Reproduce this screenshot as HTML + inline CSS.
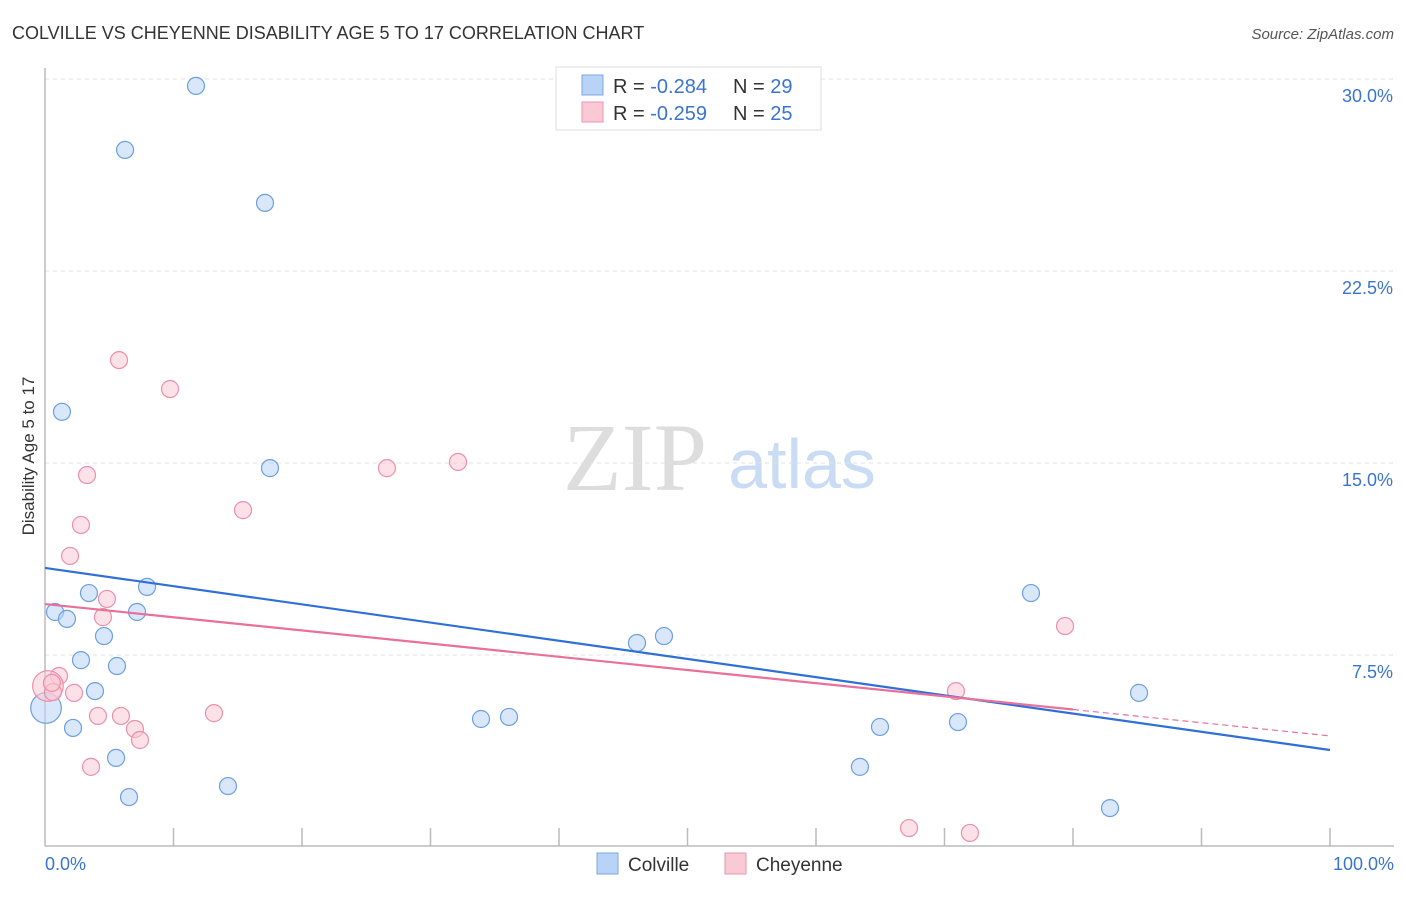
<!DOCTYPE html>
<html><head><meta charset="utf-8"><style>
body{margin:0;background:#fff;font-family:"Liberation Sans",sans-serif;}
</style></head><body>
<svg id="chart" width="1406" height="892" viewBox="0 0 1406 892" font-family="Liberation Sans, sans-serif">
<text x="12" y="39" font-size="18" fill="#333">COLVILLE VS CHEYENNE DISABILITY AGE 5 TO 17 CORRELATION CHART</text>
<text x="1394" y="39" font-size="15" fill="#555" font-style="italic" text-anchor="end">Source: ZipAtlas.com</text>
<g>
<text x="635" y="490" font-size="96" fill="#ddd" style="font-family:'Liberation Serif',serif" text-anchor="middle">ZIP</text>
<text x="802" y="488" font-size="70" fill="#c9dcf3" text-anchor="middle">atlas</text>
</g>
<g id="grid"></g>
<g id="axes"></g>
<g id="marks"></g>
<text transform="translate(34,456) rotate(-90)" font-size="17" fill="#333" text-anchor="middle">Disability Age 5 to 17</text>
<text x="45" y="870" font-size="18" fill="#3a74d0">0.0%</text>
<text x="1394" y="870" font-size="18" fill="#3a74d0" text-anchor="end">100.0%</text>
<g>
<rect x="556" y="67" width="265" height="63" fill="#fff" stroke="#ddd"/>
<rect x="582" y="75" width="21" height="20" fill="#b8d3f5" stroke="#7aa7e6"/>
<text x="613" y="93" font-size="20" fill="#333">R = <tspan fill="#3a74d0">-0.284</tspan><tspan dx="26">N = </tspan><tspan fill="#3a74d0">29</tspan></text>
<rect x="582" y="102" width="21" height="20" fill="#f9c9d6" stroke="#ee93ae"/>
<text x="613" y="120" font-size="20" fill="#333">R = <tspan fill="#3a74d0">-0.259</tspan><tspan dx="26">N = </tspan><tspan fill="#3a74d0">25</tspan></text>
</g>
<g>
<rect x="597" y="853" width="21" height="21" fill="#b8d3f5" stroke="#7aa7e6"/>
<text x="628" y="871" font-size="19" fill="#333">Colville</text>
<rect x="725" y="853" width="21" height="21" fill="#f9c9d6" stroke="#ee93ae"/>
<text x="756" y="871" font-size="19" fill="#333">Cheyenne</text>
</g>
</svg>
<script>
const yTicks=[7.5,15,22.5,30];
const yTickLabels=["7.5%","15.0%","22.5%","30.0%"];
const colvilleX=[11.75,6.23,17.12,1.32,17.51,7.94,3.42,0.78,7.16,1.71,4.59,2.80,5.60,3.89,0.08,2.18,5.53,6.54,14.24,33.93,36.11,46.07,48.17,63.42,64.98,71.05,76.73,85.14,82.88];
const colvilleY=[29.73,27.23,25.16,17.0,14.8,10.16,9.92,9.18,9.18,8.91,8.24,7.30,7.07,6.09,5.43,4.65,3.48,1.95,2.38,5.0,5.08,7.97,8.24,3.13,4.69,4.88,9.92,6.02,1.52];
const colvilleSize=[1,1,1,1,1,1,1,1,1,1,1,1,1,1,1.8,1,1,1,1,1,1,1,1,1,1,1,1,1,1];
const cheyenneX=[5.76,9.73,3.27,2.80,15.41,1.95,26.61,32.14,4.82,4.51,1.09,0.23,0.62,2.26,4.12,5.91,7.0,7.39,13.15,3.58,70.89,79.38,67.24,71.98,0.54];
const cheyenneY=[19.02,17.89,14.53,12.58,13.16,11.37,14.8,15.04,9.69,8.98,6.68,6.29,6.05,6.02,5.12,5.12,4.61,4.18,5.23,3.13,6.09,8.63,0.74,0.55,6.41];
const cheyenneSize=[1,1,1,1,1,1,1,1,1,1,1,1.8,1,1,1,1,1,1,1,1,1,1,1,1,1];
const colvilleTrend=[10.9,3.79];
const cheyenneTrend=[9.49,4.34];
const cheyenneSolidEnd=80;

const X=v=>45+v*12.85, Y=v=>847-v*25.6;
const NS="http://www.w3.org/2000/svg";
function mk(t,a,p){const e=document.createElementNS(NS,t);for(const k in a)e.setAttribute(k,a[k]);p.appendChild(e);return e;}
const grid=document.getElementById('grid'),axes=document.getElementById('axes'),marks=document.getElementById('marks');
yTicks.forEach((t,i)=>{
  const l=mk('line',{x1:45,x2:1394,y1:Y(t),y2:Y(t),stroke:'#e2e2e2','stroke-dasharray':'4,4'},grid);
  
  
  const tx=mk('text',{x:1393,y:Y(t)+23,'font-size':18,fill:'#3a74d0','text-anchor':'end'},grid);
  tx.textContent=yTickLabels[i];
  
  
});
const ya=mk('line',{x1:45,x2:45,y1:68,y2:846,stroke:'#bbb','stroke-width':1.5},axes);


const xa=mk('line',{x1:45,x2:1394,y1:846,y2:846,stroke:'#bbb','stroke-width':1.5},axes);


for(let i=1;i<=10;i++){const t=mk('line',{x1:X(i*10),x2:X(i*10),y1:828,y2:846,stroke:'#bbb','stroke-width':1.5},axes);
  
  }
function dots(xs,ys,ss,fill,stroke,name){xs.forEach((x,i)=>{const c=mk('circle',{cx:X(x),cy:Y(ys[i]),r:8.5*ss[i],fill:fill,'fill-opacity':0.55,stroke:stroke,'stroke-width':1.2},marks);
  
  });}
dots(colvilleX,colvilleY,colvilleSize,'#b8d3f5','#6d9fe0','colville-point');
dots(cheyenneX,cheyenneY,cheyenneSize,'#f9c9d6','#ec8fab','cheyenne-point');
const bl=mk('line',{x1:X(0),y1:Y(colvilleTrend[0]),x2:X(100),y2:Y(colvilleTrend[1]),stroke:'#2f6fd6','stroke-width':2.2},marks);


const pm=cheyenneTrend[0]+(cheyenneTrend[1]-cheyenneTrend[0])*cheyenneSolidEnd/100;
const pl=mk('line',{x1:X(0),y1:Y(cheyenneTrend[0]),x2:X(cheyenneSolidEnd),y2:Y(pm),stroke:'#e8709a','stroke-width':2.2},marks);


const pd=mk('line',{x1:X(cheyenneSolidEnd),y1:Y(pm),x2:X(100),y2:Y(cheyenneTrend[1]),stroke:'#e8709a','stroke-width':1.2,'stroke-dasharray':'6,4'},marks);


</script>
</body></html>
